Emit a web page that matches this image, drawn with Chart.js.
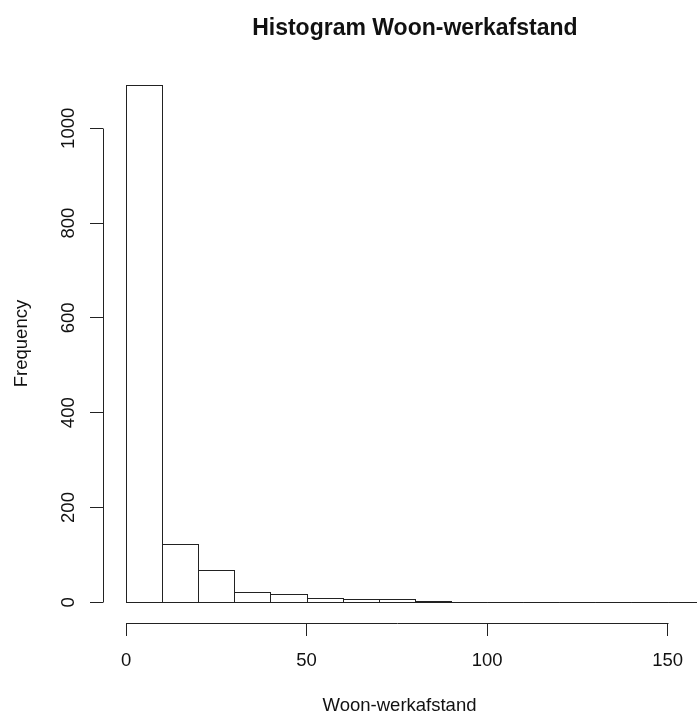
<!DOCTYPE html>
<html>
<head>
<meta charset="utf-8">
<title>Histogram Woon-werkafstand</title>
<script src="https://cdn.jsdelivr.net/npm/chart.js@4.4.1/dist/chart.umd.min.js"></script>
<style>
  html, body { margin: 0; padding: 0; background: #fff; overflow: hidden; }
  #wrap { width: 697px; height: 717px; }
</style>
</head>
<body>
<div id="wrap"><canvas id="histChart" width="697" height="717"></canvas></div>
<script>
  // bin edges (km) and number of people per bin
  var breaks = [0, 10, 20, 30, 40, 50, 60, 70, 80, 90, 100, 110, 120, 130, 140, 150, 160];
  var counts = [1092, 123, 68, 21, 17, 9, 6, 6, 3, 0, 0, 0, 0, 0, 0, 1];
  var xTicks = [0, 50, 100, 150];
  var yTicks = [0, 200, 400, 600, 800, 1000];

  var chartTitle = "Histogram Woon-werkafstand";
  var xLabel = "Woon-werkafstand";
  var yLabel = "Frequency";

  var fontFamily = "'Liberation Sans', Arial, sans-serif";
  var inkColor = "#111";
  var lineColor = "#222";

  // bar centres, one per bin
  var points = [];
  for (var i = 0; i < counts.length; i++) {
    points.push({ x: (breaks[i] + breaks[i + 1]) / 2, y: counts[i] });
  }

  // R style plot range: 4% extra on each side
  var xSpan = breaks[breaks.length - 1] - breaks[0];
  var xMin = breaks[0] - 0.04 * xSpan;
  var yTop = Math.max.apply(null, counts);
  var yMin = -0.04 * yTop;
  var yMax = yTop * 1.04;

  function plainLabel(value) {
    return String(value);
  }

  // 1px outlines on every bin, zero bins included (drawn as flat lines)
  var outlineBars = {
    id: 'outlineBars',
    afterDatasetsDraw: function(chart) {
      var ctx = chart.ctx;
      var meta = chart.getDatasetMeta(0);
      ctx.save();
      ctx.strokeStyle = lineColor;
      ctx.lineWidth = 1;
      meta.data.forEach(function(bar) {
        var p = bar.getProps(['x', 'y', 'base', 'width'], true);
        var left = Math.round(p.x - p.width / 2) + 0.5;
        var right = Math.round(p.x + p.width / 2) + 0.5;
        var top = Math.round(p.y) + 0.5;
        var bottom = Math.round(p.base) + 0.5;
        ctx.strokeRect(left, top, right - left, bottom - top);
      });
      ctx.restore();
    }
  };

  // axis lines only between first and last tick, like base graphics
  var tickAxes = {
    id: 'tickAxes',
    afterDraw: function(chart) {
      var ctx = chart.ctx;
      var xs = chart.scales.x;
      var ys = chart.scales.y;
      var area = chart.chartArea;
      ctx.save();
      ctx.strokeStyle = lineColor;
      ctx.lineWidth = 1;
      ctx.beginPath();
      var ax = Math.round(area.left) + 0.5;
      ctx.moveTo(ax, Math.round(ys.getPixelForValue(yTicks[0])) + 0.5);
      ctx.lineTo(ax, Math.round(ys.getPixelForValue(yTicks[yTicks.length - 1])) + 0.5);
      var ay = Math.round(area.bottom) + 0.5;
      ctx.moveTo(Math.round(xs.getPixelForValue(xTicks[0])) + 0.5, ay);
      ctx.lineTo(Math.round(xs.getPixelForValue(xTicks[xTicks.length - 1])) + 0.5, ay);
      ctx.stroke();
      ctx.restore();
    }
  };

  // main title, centred over the full plot range
  var topTitle = {
    id: 'topTitle',
    afterDraw: function(chart) {
      var ctx = chart.ctx;
      var cx = chart.scales.x.getPixelForValue((breaks[0] + breaks[breaks.length - 1]) / 2);
      ctx.save();
      ctx.fillStyle = inkColor;
      ctx.font = "bold 23px " + fontFamily;
      ctx.textAlign = 'center';
      ctx.textBaseline = 'alphabetic';
      ctx.fillText(chartTitle, cx, 35);
      ctx.restore();
    }
  };

  var ctx = document.getElementById('histChart').getContext('2d');
  var histChart = new Chart(ctx, {
    type: 'bar',
    data: {
      datasets: [{
        label: yLabel,
        data: points,
        backgroundColor: '#fff',
        borderWidth: 0,
        barPercentage: 1,
        categoryPercentage: 1
      }]
    },
    options: {
      responsive: false,
      animation: false,
      devicePixelRatio: 1,
      layout: { padding: { top: 64, left: 0, right: 0, bottom: 0 } },
      plugins: {
        legend: { display: false },
        tooltip: { enabled: false },
        title: { display: false }
      },
      scales: {
        x: {
          type: 'linear',
          min: xMin,
          max: 157.9,
          offset: false,
          afterBuildTicks: function(scale) {
            scale.ticks = xTicks.map(function(v) { return { value: v }; });
          },
          afterFit: function(scale) { scale.height = 94; },
          border: { display: false },
          grid: { offset: false, drawOnChartArea: false, drawTicks: true, tickLength: 13, color: lineColor },
          ticks: {
            maxRotation: 0,
            padding: 14,
            color: inkColor,
            font: { family: fontFamily, size: 18.5 },
            callback: plainLabel
          },
          title: {
            display: true,
            text: xLabel,
            color: inkColor,
            font: { family: fontFamily, size: 18.5 },
            padding: { top: 0, bottom: 0 }
          }
        },
        y: {
          min: yMin,
          max: yMax,
          afterBuildTicks: function(scale) {
            scale.ticks = yTicks.map(function(v) { return { value: v }; });
          },
          afterFit: function(scale) { scale.width = 103; },
          border: { display: false },
          grid: { drawOnChartArea: false, drawTicks: true, tickLength: 13, color: lineColor },
          ticks: {
            minRotation: 90,
            maxRotation: 90,
            crossAlign: 'center',
            padding: 1,
            color: inkColor,
            font: { family: fontFamily, size: 18.5 },
            callback: plainLabel
          },
          title: {
            display: true,
            text: yLabel,
            color: inkColor,
            font: { family: fontFamily, size: 18.5 },
            padding: { top: 11, bottom: 0 }
          }
        }
      }
    },
    plugins: [outlineBars, tickAxes, topTitle]
  });
</script>
</body>
</html>
